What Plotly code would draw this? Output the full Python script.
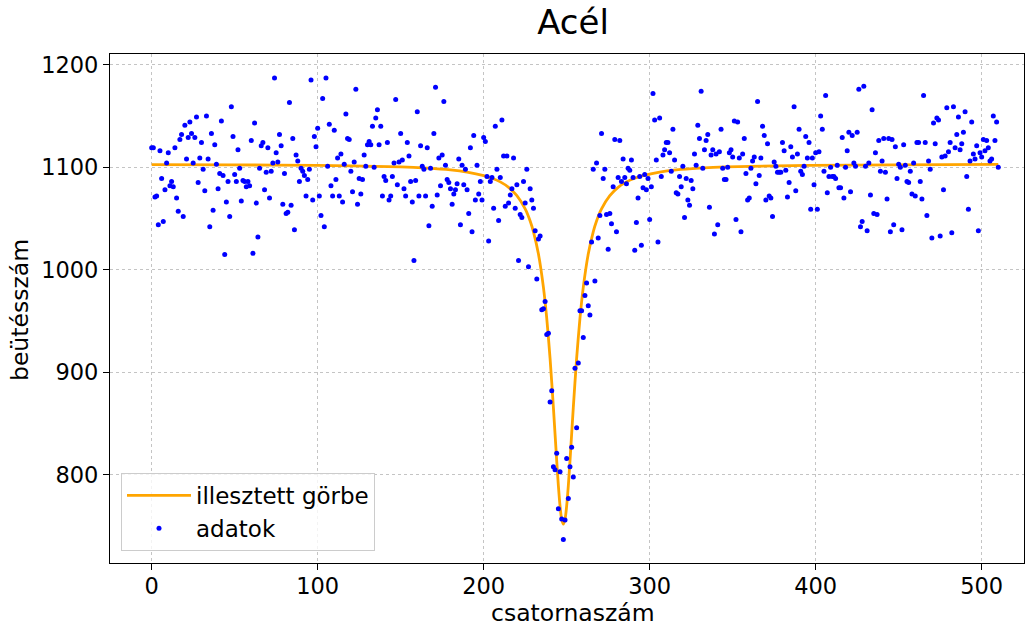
import numpy as np
import plotly.graph_objects as go

counts = [
    # ch 0-50
    1119, 1119, 1071, 1072, 1044, 1116, 1089, 1047, 1078, 1104, 1114, 1082, 1086, 1081, 1119, 1070, 1057,
    1127, 1132, 1052, 1141, 1108, 1129, 1144, 1133, 1104, 1129, 1149, 1085, 1109, 1124, 1098, 1077, 1150,
    1108, 1042, 1133, 1058, 1122, 1103, 1079, 1094, 1145, 1092, 1015, 1066, 1086, 1052, 1159, 1130, 1093,
    # ch 51-102
    1086, 1117, 1099, 1067, 1087, 1086, 1081, 1086, 1082, 1126, 1016, 1143, 1065, 1032, 1099, 1121, 1124,
    1078, 1095, 1119, 1070, 1096, 1104, 1187, 1114, 1105, 1132, 1121, 1064, 1094, 1055, 1056, 1163, 1063,
    1128, 1039, 1112, 1106, 1086, 1099, 1096, 1092, 1072, 1088, 1098, 1185, 1068, 1130, 1120, 1138, 1072,
    1053,
    # ch 103-153
    1167, 1042, 1187, 1101, 1142, 1082, 1072, 1136, 1088, 1109, 1072, 1113, 1066, 1103, 1152, 1128, 1127,
    1096, 1076, 1105, 1176, 1064, 1089, 1074, 1088, 1112, 1101, 1122, 1125, 1122, 1140, 1100, 1148, 1156,
    1122, 1140, 1072, 1091, 1087, 1124, 1068, 1072, 1091, 1104, 1166, 1083, 1105, 1133, 1107, 1079, 1072,
    # ch 154-203
    1124, 1111, 1086, 1066, 1009, 1087, 1154, 1072, 1121, 1101, 1098, 1072, 1119, 1043, 1099, 1062, 1133,
    1178, 1073, 1109, 1082, 1112, 1164, 1102, 1088, 1085, 1079, 1064, 1074, 1078, 1084, 1108, 1044, 1102,
    1083, 1098, 1078, 1055, 1119, 1037, 1131, 1068, 1102, 1074, 1086, 1068, 1129, 1125, 1091, 1028,
    # ch 204-254
    1086, 1090, 1060, 1140, 1098, 1048, 1090, 1146, 1111, 1062, 1111, 1065, 1073, 1079, 1109, 1060, 1083,
    1009, 1054, 1051, 1086, 1065, 1098, 1003, 1079, 1068, 1060, 1038, 991, 1030, 1033, 961, 962, 969,
    937, 938, 871, 882, 808, 805, 821, 767, 803, 757, 737, 756, 816, 777, 808, 827, 798,
    # ch 255-304
    904, 846, 909, 960, 960, 934, 975, 987, 965, 956, 1027, 1098, 989, 1104, 1031, 1053, 1133,
    1089, 1098, 1054, 1020, 1055, 1045, 1081, 1127, 1037, 1090, 1126, 1086, 1108, 1090, 1084, 1099,
    1097, 1107, 1090, 1019, 1046, 1070, 1091, 1024, 1080, 1093, 1078, 1089, 1049, 1081, 1172, 1146, 1107,
    # ch 305-354
    1027, 1148, 1091, 1112, 1117, 1124, 1124, 1114, 1096, 1137, 1107, 1075, 1074, 1091, 1081, 1101, 1051,
    1089, 1068, 1063, 1087, 1079, 1113, 1102, 1141, 1128, 1174, 1099, 1117, 1126, 1132, 1061, 1112,
    1117, 1035, 1113, 1044, 1115, 1137, 1099, 1088, 1088, 1100, 1114, 1117, 1110, 1145, 1049, 1144, 1109,
    # ch 355-404
    1037, 1113, 1128, 1094, 1068, 1070, 1099, 1106, 1110, 1084, 1164, 1092, 1109, 1140, 1131, 1068, 1123,
    1072, 1070, 1052, 1105, 1101, 1095, 1095, 1095, 1124, 1116, 1097, 1071, 1085, 1120, 1110, 1159,
    1077, 1113, 1137, 1096, 1093, 1101, 1130, 1109, 1124, 1059, 1109, 1083, 1114, 1059, 1115, 1150, 1137,
    # ch 405-455
    1096, 1170, 1075, 1091, 1100, 1091, 1091, 1089, 1102, 1080, 1080, 1129, 1070, 1100, 1116, 1134, 1076,
    1131, 1104, 1101, 1134, 1176, 1042, 1047, 1179, 1101, 1038, 1104, 1073, 1156, 1055, 1114, 1054,
    1126, 1096, 1106, 1128, 1095, 1069, 1128, 1037, 1127, 1044, 1120, 1089, 1103, 1100, 1039, 1122, 1102,
    1086,
    # ch 456-510
    1085, 1096, 1074, 1104, 1072, 1124, 1124, 1086, 1069, 1170, 1124, 1053, 1106, 1098, 1031, 1143, 1123,
    1148, 1146, 1033, 1110, 1078, 1111, 1158, 1115, 1124, 1036, 1159, 1119, 1132, 1149, 1117, 1123, 1134,
    1154, 1091, 1059, 1106, 1144, 1113, 1108, 1121, 1038, 1114, 1110, 1127, 1116, 1126, 1119, 1106, 1108,
    1150, 1126, 1144, 1100,
]
channels = list(range(len(counts)))

# fitted curve
fit_x = [0, 50, 100, 120, 150, 166, 180, 190, 200, 205, 210, 215, 220, 225, 228, 230, 233, 236, 238,
         240, 242, 244, 245, 246, 247, 248, 249, 250, 251, 252, 254, 256, 258, 260, 263, 266, 268,
         271, 276, 281, 286, 291, 296, 306, 316, 330, 346, 376, 396, 446, 510]
fit_y = [1102.6, 1102.3, 1101.8, 1101.4, 1100.3, 1099.1, 1097.4, 1095.3, 1091.9, 1089.3, 1085.7,
         1080.4, 1072.3, 1059.4, 1047.6, 1037.0, 1015.3, 982.8, 952.6, 913.6, 865.8, 813.7, 789.6,
         769.7, 756.6, 752.0, 756.6, 769.7, 789.6, 813.7, 865.8, 913.6, 952.6, 982.8, 1015.3, 1037.0,
         1047.6, 1059.4, 1072.3, 1080.4, 1085.7, 1089.3, 1091.9, 1095.3, 1097.4, 1099.1, 1100.3,
         1101.4, 1101.8, 1102.3, 1102.7]

x_ticks = [0, 100, 200, 300, 400, 500]
y_ticks = [800, 900, 1000, 1100, 1200]

FONT = "DejaVu Sans"
W, H = 1026, 628
ML, MR, MT, MB = 110, 2, 54, 65

fig = go.Figure()
fig.add_trace(go.Scatter(
    x=fit_x, y=fit_y, mode="lines", name="illesztett görbe",
    line=dict(color="#ffa500", width=2.8, shape="spline", smoothing=0.6),
))
fig.add_trace(go.Scatter(
    x=channels, y=counts, mode="markers", name="adatok",
    marker=dict(color="#0000ff", size=5, line=dict(width=0)),
))

axis_common = dict(
    showline=True, linecolor="black", linewidth=1.2, mirror=True,
    ticks="outside", ticklen=6, tickwidth=1.2, tickcolor="black",
    showgrid=True, gridcolor="#c4c4c4", gridwidth=1, griddash="dot",
    zeroline=False, tickfont=dict(size=22.5, color="black", family=FONT),
)

pw = W - ML - MR
ph = H - MT - MB

fig.update_layout(
    width=W, height=H,
    margin=dict(l=ML, r=MR, t=MT, b=MB, autoexpand=False),
    paper_bgcolor="white", plot_bgcolor="white",
    font=dict(family=FONT, color="black"),
    title=dict(text="Acél", x=573 / W, xanchor="center", xref="container",
               y=1 - 22 / H, yanchor="middle", yref="container",
               font=dict(size=34, color="black", family=FONT)),
    xaxis=dict(range=[-25.1, 525.5], tickvals=x_ticks, ticklabelstandoff=-3, **axis_common),
    yaxis=dict(range=[714.1, 1210.4], tickvals=y_ticks, **axis_common),
    legend=dict(x=11 / pw, y=12 / ph, xanchor="left", yanchor="bottom",
                bgcolor="rgba(255,255,255,0.8)", bordercolor="#cccccc", borderwidth=1,
                font=dict(size=23, color="black", family=FONT), itemwidth=64,
                tracegroupgap=2),
    showlegend=True,
    annotations=[
        dict(text="csatornaszám", xref="paper", yref="paper", x=(573 - ML) / pw,
             y=-(613 - (H - MB)) / ph,
             xanchor="center", yanchor="middle", showarrow=False,
             font=dict(size=23.5, color="black", family=FONT)),
        dict(text="beütésszám", xref="paper", yref="paper", x=-(ML - 20) / pw, y=(H - MB - 310) / ph,
             xanchor="center", yanchor="middle", showarrow=False, textangle=-90,
             font=dict(size=23.5, color="black", family=FONT)),
    ],
)

fig.write_html(
    "out.html",
    config={"displayModeBar": False},
    post_script="document.body.style.margin='0';document.body.style.overflow='hidden';",
)
